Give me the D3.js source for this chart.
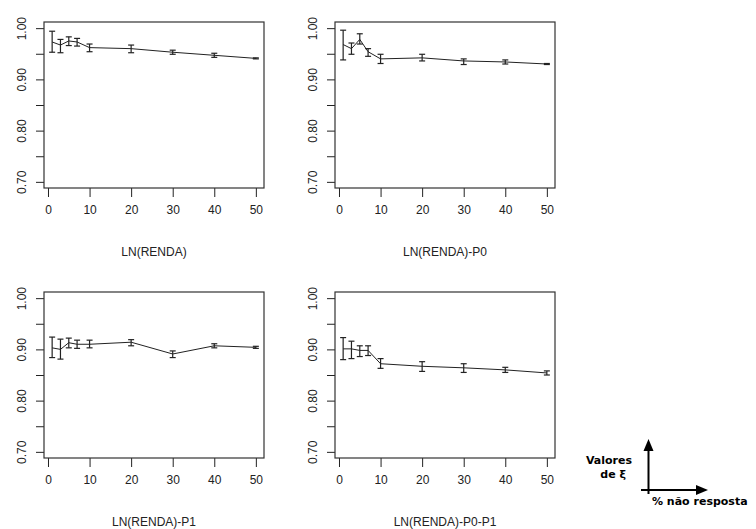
<!DOCTYPE html>
<html>
<head>
<meta charset="utf-8">
<script src="https://cdn.jsdelivr.net/npm/d3@7"></script>
<style>
	body { margin: 0; background: #fff; }
	svg { display: block; }
	.tick text { font-family: "Liberation Sans", Arial, sans-serif; font-size: 12px; fill: #222; }
	.xlab { font-family: "Liberation Sans", Arial, sans-serif; font-size: 12px; fill: #222; }
	.leg { font-family: "DejaVu Sans", sans-serif; font-size: 11px; font-weight: bold; fill: #000; }
</style>
</head>
<body>
<div class="c-svg"></div>
<script>
//DATA
//-------------------------------------------------------------------------

//% de nao resposta (eixo x)
const naoResposta = [1, 3, 5, 7, 10, 20, 30, 40, 50];

const titulos = ["LN(RENDA)", "LN(RENDA)-P0", "LN(RENDA)-P1", "LN(RENDA)-P0-P1"];

//valores de xi e limites dos intervalos
const xiRenda    = [0.973, 0.967, 0.975, 0.973, 0.962, 0.960, 0.953, 0.947, 0.941];
const infRenda   = [0.953, 0.952, 0.966, 0.965, 0.954, 0.952, 0.949, 0.943, 0.940];
const supRenda   = [0.994, 0.978, 0.983, 0.980, 0.969, 0.967, 0.957, 0.951, 0.942];

const xiP0       = [0.968, 0.960, 0.978, 0.954, 0.940, 0.942, 0.936, 0.934, 0.930];
const infP0      = [0.938, 0.949, 0.969, 0.945, 0.931, 0.936, 0.929, 0.930, 0.929];
const supP0      = [0.996, 0.971, 0.989, 0.960, 0.949, 0.949, 0.940, 0.938, 0.931];

const xiP1       = [0.903, 0.900, 0.913, 0.910, 0.910, 0.914, 0.891, 0.907, 0.904];
const infP1      = [0.884, 0.881, 0.903, 0.902, 0.903, 0.907, 0.884, 0.903, 0.902];
const supP1      = [0.924, 0.920, 0.922, 0.918, 0.918, 0.919, 0.897, 0.911, 0.906];

const xiP0P1     = [0.901, 0.901, 0.898, 0.898, 0.872, 0.867, 0.864, 0.860, 0.854];
const infP0P1    = [0.880, 0.882, 0.886, 0.888, 0.863, 0.857, 0.855, 0.855, 0.850];
const supP0P1    = [0.923, 0.916, 0.907, 0.907, 0.882, 0.876, 0.872, 0.865, 0.858];

const xTicks = [0, 10, 20, 30, 40, 50];
const yTicks = [0.70, 0.75, 0.80, 0.85, 0.90, 0.95, 1.00];

const series = [
	[xiRenda, infRenda, supRenda],
	[xiP0, infP0, supP0],
	[xiP1, infP1, supP1],
	[xiP0P1, infP0P1, supP0P1]
];

//LAYOUT
//-------------------------------------------------------------------------

const opts = { width: 756, height: 529 };
const box = { width: 220, height: 166 };
const origins = [[44, 22], [335, 22], [44, 292], [335, 292]];

const svg = d3.select(".c-svg")
	.append("svg")
	.attr("width", opts.width)
	.attr("height", opts.height);

//R style: 4% extension of the data range
const xPad = (50 - 1) * 0.04;
const x = d3.scaleLinear()
	.domain([1 - xPad, 50 + xPad])
	.range([0, box.width]);

const y = d3.scaleLinear()
	.domain([0.70 - 0.012, 1.00 + 0.012])
	.range([box.height, 0]);

const line = d3.line()
	.x((d) => x(d.x))
	.y((d) => y(d.v));

//PANELS
//-------------------------------------------------------------------------

series.forEach((s, i) => {
	const g = svg.append("g")
		.attr("transform", `translate(${origins[i][0]} ${origins[i][1]})`);

	const pts = naoResposta.map((n, j) => ({ x: n, v: s[0][j], lo: s[1][j], hi: s[2][j] }));

	//x axis
	const gx = g.append("g")
		.attr("transform", `translate(0 ${box.height})`)
		.call(d3.axisBottom(x).tickValues(xTicks).tickSize(9).tickPadding(8).tickFormat(d3.format("d")));
	gx.select(".domain").remove();
	gx.selectAll(".tick line").attr("stroke", "#222");

	//y axis
	const gy = g.append("g")
		.call(d3.axisLeft(y).tickValues(yTicks).tickSize(8).tickFormat(""));
	gy.select(".domain").remove();
	gy.selectAll(".tick line").attr("stroke", "#222");
	gy.selectAll(".tick")
		.filter((d) => Math.round(d * 100) % 10 === 0)
		.append("text")
		.attr("transform", "translate(-22 0) rotate(-90)")
		.attr("text-anchor", "middle")
		.attr("dy", "0.35em")
		.text((d) => d3.format(".2f")(d));

	//box
	g.append("rect")
		.attr("width", box.width)
		.attr("height", box.height)
		.attr("fill", "none")
		.attr("stroke", "#333")
		.attr("stroke-width", 1.2);

	//line
	g.append("path")
		.datum(pts)
		.attr("d", line)
		.attr("fill", "none")
		.attr("stroke", "#222")
		.attr("stroke-width", 1);

	//error bars
	const eb = g.selectAll(".eb")
		.data(pts)
		.join("g")
		.attr("class", "eb")
		.attr("stroke", "#222")
		.attr("stroke-width", 1.2);

	eb.append("line")
		.attr("x1", (d) => x(d.x)).attr("x2", (d) => x(d.x))
		.attr("y1", (d) => y(d.lo)).attr("y2", (d) => y(d.hi));
	eb.append("line")
		.attr("x1", (d) => x(d.x) - 3).attr("x2", (d) => x(d.x) + 3)
		.attr("y1", (d) => y(d.lo)).attr("y2", (d) => y(d.lo));
	eb.append("line")
		.attr("x1", (d) => x(d.x) - 3).attr("x2", (d) => x(d.x) + 3)
		.attr("y1", (d) => y(d.hi)).attr("y2", (d) => y(d.hi));

	//xlab
	g.append("text")
		.attr("class", "xlab")
		.attr("x", box.width / 2)
		.attr("y", box.height + 68)
		.attr("text-anchor", "middle")
		.text(titulos[i]);
});

//LEGEND
//-------------------------------------------------------------------------

const leg = svg.append("g");

leg.append("line")
	.attr("x1", 648.5).attr("y1", 494)
	.attr("x2", 648.5).attr("y2", 448)
	.attr("stroke", "#000").attr("stroke-width", 2);
leg.append("path")
	.attr("d", "M648.5,439 L643.5,451 L653.5,451 Z")
	.attr("fill", "#000");

leg.append("line")
	.attr("x1", 641).attr("y1", 490)
	.attr("x2", 699).attr("y2", 490)
	.attr("stroke", "#000").attr("stroke-width", 2);
leg.append("path")
	.attr("d", "M708,490 L696,485 L696,495 Z")
	.attr("fill", "#000");

leg.append("text").attr("class", "leg")
	.attr("x", 632).attr("y", 464)
	.attr("text-anchor", "end")
	.text("Valores");
leg.append("text").attr("class", "leg")
	.attr("x", 626).attr("y", 478)
	.attr("text-anchor", "end")
	.text("de ξ");
leg.append("text").attr("class", "leg")
	.attr("x", 652).attr("y", 505)
	.text("% não resposta");
</script>
</body>
</html>
